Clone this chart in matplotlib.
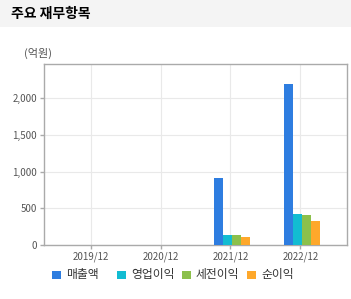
import matplotlib
matplotlib.use("Agg")
import matplotlib.pyplot as plt
import numpy as np
from matplotlib.patches import Rectangle

plt.rcParams['font.family'] = ['Noto Sans CJK KR', 'DejaVu Sans']

categories = ['2019/12', '2020/12', '2021/12', '2022/12']
series_names = ['매출액', '영업이익', '세전이익', '순이익']
sales = [0, 0, 912, 2190]
op_income = [0, 0, 136, 423]
pretax = [0, 0, 136, 409]
net_income = [0, 0, 109, 331]
yticks = [0, 500, 1000, 1500, 2000]
ytick_labels = ['0', '500', '1,000', '1,500', '2,000']
colors = ['#2e7de0', '#12bcd2', '#8cc04b', '#fea82b']

W, H = 351, 299
fig = plt.figure(figsize=(W / 100, H / 100), dpi=100)
fig.patch.set_facecolor('white')

# title bar
fig.patches.append(Rectangle((0, 1 - 27 / H), 1, 27 / H, transform=fig.transFigure,
                             facecolor='#f4f4f4', edgecolor='none', zorder=0))
fig.text(11 / W, 1 - 14 / H, '주요 재무항목', fontsize=10, fontweight='bold',
         color='#000000', va='center', ha='left')

left, right, top, bottom = 44, 347, 64, 245
ax = fig.add_axes([left / W, 1 - bottom / H, (right - left) / W, (bottom - top) / H])

x = np.arange(len(categories))
w = 9 / 70
shift = 1.3 / 70
data = [sales, op_income, pretax, net_income]
for i, (vals, c) in enumerate(zip(data, colors)):
    ax.bar(x + (i - 1.5) * w + shift, vals, width=w, color=c, zorder=3, linewidth=0)

ax.set_xlim(-0.667, 3.667)
ax.set_ylim(0, 2465)
ax.set_xticks(x)
ax.set_xticklabels(categories)
ax.set_yticks(yticks)
ax.set_yticklabels(ytick_labels)
ax.grid(True, color='#e9e9e9', linewidth=0.8, zorder=0)
for s in ax.spines.values():
    s.set_color('#aaaaaa')
    s.set_linewidth(1)
ax.tick_params(axis='both', colors='#aaaaaa', labelcolor='#555555', labelsize=7,
               length=3, width=1, pad=2)

fig.text(24 / W, 1 - 53 / H, '(억원)', fontsize=8, color='#555555', va='center', ha='left')

# legend
leg_x = [52, 117, 182, 247]
for name, c, lx in zip(series_names, colors, leg_x):
    fig.patches.append(Rectangle((lx / W, 1 - 279 / H), 8.5 / W, 8.5 / H,
                                 transform=fig.transFigure, facecolor=c, edgecolor='none'))
    fig.text((lx + 14) / W, 1 - 274.5 / H, name, fontsize=8.5, color='#333333',
             va='center', ha='left')

fig.savefig('out.png', dpi=100)
